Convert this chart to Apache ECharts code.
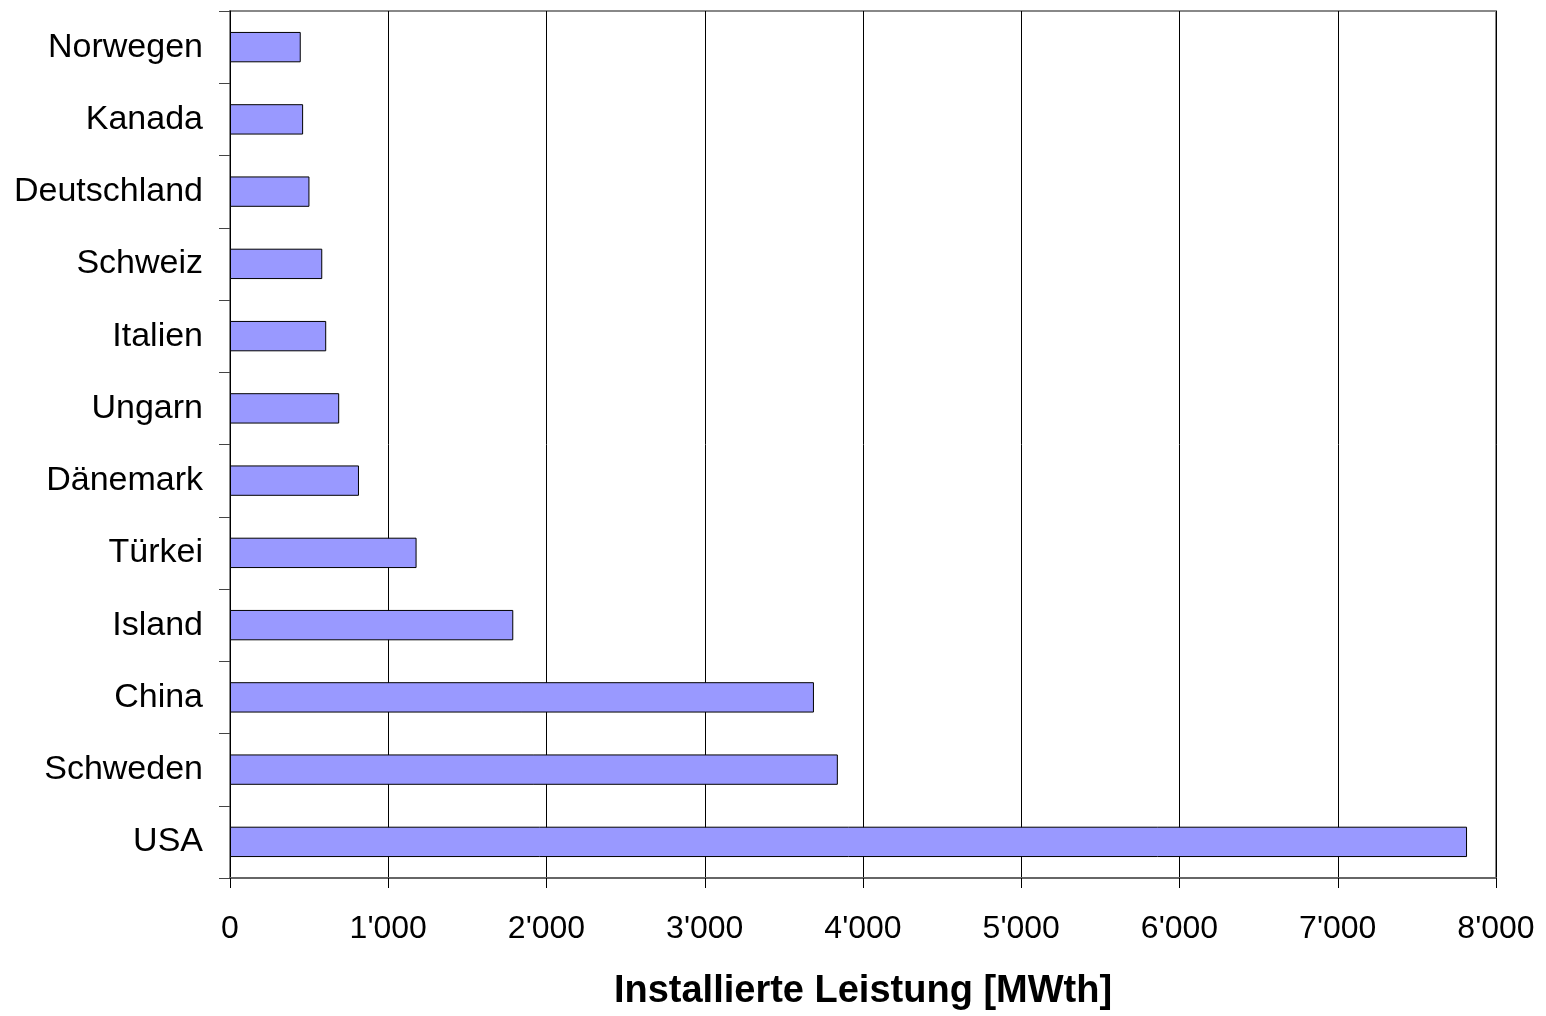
<!DOCTYPE html>
<html><head><meta charset="utf-8">
<script src="https://cdn.jsdelivr.net/npm/echarts@6/dist/echarts.min.js"></script>
<style>html,body{margin:0;padding:0;background:#fff}#c{width:1546px;height:1016px}</style>
</head><body><div id="c"></div>
<script>
const categories = ["USA","Schweden","China","Island","Türkei","Dänemark","Ungarn","Italien","Schweiz","Deutschland","Kanada","Norwegen"];
const values = [7817, 3841, 3690, 1790, 1179, 815, 690, 608, 583, 502, 462, 447];
const xTicks = [0,1000,2000,3000,4000,5000,6000,7000,8000];
const xTitle = "Installierte Leistung [MWth]";

const fmt = v => { const s = String(v); return s.length > 3 ? s.slice(0, s.length-3) + "'" + s.slice(-3) : s; };

const chart = echarts.init(document.getElementById('c'));
chart.setOption({
  animation: false,
  textStyle: {fontFamily: "Liberation Sans, Arial, sans-serif"},
  grid: {left: 230, right: 50, top: 11, bottom: 137, show: true, borderColor: '#888', borderWidth: 2},
  xAxis: {
    type: 'value', min: xTicks[0], max: xTicks[xTicks.length-1], interval: 1000,
    name: xTitle, nameLocation: 'middle', nameGap: 95,
    nameTextStyle: {fontSize: 38, fontWeight: 'bold', color: '#000', fontFamily: "Liberation Sans, Arial, sans-serif"},
    axisLine: {show: true, lineStyle: {color: '#666', width: 2}},
    axisTick: {show: true, length: 10, inside: false, lineStyle: {color: '#000', width: 1}},
    axisLabel: {fontSize: 32, color: '#000', margin: 35, formatter: fmt},
    splitLine: {show: true, lineStyle: {color: '#000', width: 1}}
  },
  yAxis: {
    type: 'category', data: categories,
    axisLine: {show: true, lineStyle: {color: '#000', width: 1}},
    axisTick: {show: true, length: 11, alignWithLabel: false, lineStyle: {color: '#444', width: 1}},
    axisLabel: {fontSize: 34, color: '#000', margin: 27},
    splitLine: {show: false}
  },
  series: [{
    type: 'bar', data: values, barWidth: '42%',
    itemStyle: {color: '#9999ff', borderColor: '#000', borderWidth: 1}
  }]
});
</script></body></html>
